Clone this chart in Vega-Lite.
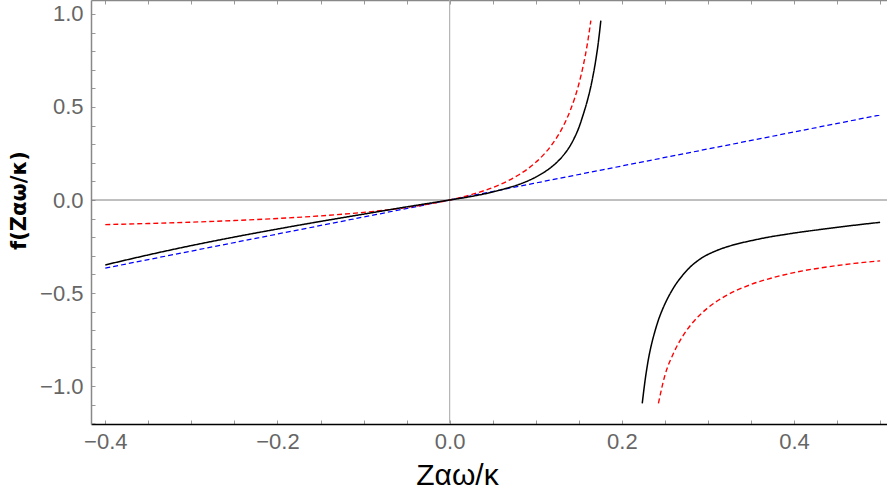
{
  "$schema": "https://vega.github.io/schema/vega-lite/v6.json",
  "width": 796,
  "height": 424,
  "autosize": {"type": "none"},
  "padding": {"left": 91, "top": 0, "right": 0, "bottom": 68},
  "config": {"view": {"stroke": null}},
  "datasets": {
    "curves": [
      {"series": "zeroH", "branch": "h", "x": -0.4166, "y": 0},
      {"series": "zeroH", "branch": "h", "x": 0.508, "y": 0},
      {"series": "zeroV", "branch": "v", "x": 0, "y": -1.204},
      {"series": "zeroV", "branch": "v", "x": 0, "y": 1.075},
      {"series": "blue", "branch": "b1", "x": -0.4, "y": -0.366},
      {"series": "blue", "branch": "b1", "x": 0, "y": 0},
      {"series": "blue", "branch": "b1", "x": 0.5, "y": 0.457},
      {"series": "red", "branch": "r1", "x": -0.4, "y": -0.1323},
      {"series": "red", "branch": "r1", "x": -0.35, "y": -0.1263},
      {"series": "red", "branch": "r1", "x": -0.3, "y": -0.1191},
      {"series": "red", "branch": "r1", "x": -0.25, "y": -0.1104},
      {"series": "red", "branch": "r1", "x": -0.2, "y": -0.0994},
      {"series": "red", "branch": "r1", "x": -0.15, "y": -0.0853},
      {"series": "red", "branch": "r1", "x": -0.1, "y": -0.0664},
      {"series": "red", "branch": "r1", "x": -0.05, "y": -0.0399},
      {"series": "red", "branch": "r1", "x": 0, "y": 0},
      {"series": "red", "branch": "r1", "x": 0.03, "y": 0.0354},
      {"series": "red", "branch": "r1", "x": 0.06, "y": 0.0862},
      {"series": "red", "branch": "r1", "x": 0.08, "y": 0.1344},
      {"series": "red", "branch": "r1", "x": 0.1, "y": 0.2024},
      {"series": "red", "branch": "r1", "x": 0.11, "y": 0.2481},
      {"series": "red", "branch": "r1", "x": 0.12, "y": 0.3055},
      {"series": "red", "branch": "r1", "x": 0.13, "y": 0.3799},
      {"series": "red", "branch": "r1", "x": 0.14, "y": 0.4801},
      {"series": "red", "branch": "r1", "x": 0.145, "y": 0.5445},
      {"series": "red", "branch": "r1", "x": 0.15, "y": 0.6224},
      {"series": "red", "branch": "r1", "x": 0.155, "y": 0.7186},
      {"series": "red", "branch": "r1", "x": 0.16, "y": 0.8403},
      {"series": "red", "branch": "r1", "x": 0.164, "y": 0.964},
      {"series": "red", "branch": "r2", "x": 0.2425, "y": -1.093},
      {"series": "red", "branch": "r2", "x": 0.25, "y": -0.943},
      {"series": "red", "branch": "r2", "x": 0.26, "y": -0.824},
      {"series": "red", "branch": "r2", "x": 0.27, "y": -0.737},
      {"series": "red", "branch": "r2", "x": 0.28, "y": -0.672},
      {"series": "red", "branch": "r2", "x": 0.3, "y": -0.579},
      {"series": "red", "branch": "r2", "x": 0.32, "y": -0.517},
      {"series": "red", "branch": "r2", "x": 0.35, "y": -0.454},
      {"series": "red", "branch": "r2", "x": 0.38, "y": -0.412},
      {"series": "red", "branch": "r2", "x": 0.41, "y": -0.381},
      {"series": "red", "branch": "r2", "x": 0.44, "y": -0.359},
      {"series": "red", "branch": "r2", "x": 0.47, "y": -0.341},
      {"series": "red", "branch": "r2", "x": 0.5, "y": -0.327},
      {"series": "black", "branch": "k1", "x": -0.4, "y": -0.349},
      {"series": "black", "branch": "k1", "x": -0.35, "y": -0.295},
      {"series": "black", "branch": "k1", "x": -0.3, "y": -0.245},
      {"series": "black", "branch": "k1", "x": -0.25, "y": -0.199},
      {"series": "black", "branch": "k1", "x": -0.2, "y": -0.156},
      {"series": "black", "branch": "k1", "x": -0.15, "y": -0.115},
      {"series": "black", "branch": "k1", "x": -0.1, "y": -0.076},
      {"series": "black", "branch": "k1", "x": -0.05, "y": -0.037},
      {"series": "black", "branch": "k1", "x": 0, "y": 0},
      {"series": "black", "branch": "k1", "x": 0.025, "y": 0.019},
      {"series": "black", "branch": "k1", "x": 0.05, "y": 0.043},
      {"series": "black", "branch": "k1", "x": 0.066, "y": 0.063},
      {"series": "black", "branch": "k1", "x": 0.08, "y": 0.083},
      {"series": "black", "branch": "k1", "x": 0.09, "y": 0.101},
      {"series": "black", "branch": "k1", "x": 0.1, "y": 0.123},
      {"series": "black", "branch": "k1", "x": 0.11, "y": 0.15},
      {"series": "black", "branch": "k1", "x": 0.12, "y": 0.184},
      {"series": "black", "branch": "k1", "x": 0.13, "y": 0.229},
      {"series": "black", "branch": "k1", "x": 0.14, "y": 0.292},
      {"series": "black", "branch": "k1", "x": 0.145, "y": 0.335},
      {"series": "black", "branch": "k1", "x": 0.15, "y": 0.388},
      {"series": "black", "branch": "k1", "x": 0.155, "y": 0.457},
      {"series": "black", "branch": "k1", "x": 0.16, "y": 0.535},
      {"series": "black", "branch": "k1", "x": 0.165, "y": 0.632},
      {"series": "black", "branch": "k1", "x": 0.17, "y": 0.76},
      {"series": "black", "branch": "k1", "x": 0.1725, "y": 0.84},
      {"series": "black", "branch": "k1", "x": 0.1756, "y": 0.964},
      {"series": "black", "branch": "k2", "x": 0.2237, "y": -1.093},
      {"series": "black", "branch": "k2", "x": 0.227, "y": -0.97},
      {"series": "black", "branch": "k2", "x": 0.2305, "y": -0.865},
      {"series": "black", "branch": "k2", "x": 0.2345, "y": -0.775},
      {"series": "black", "branch": "k2", "x": 0.2385, "y": -0.705},
      {"series": "black", "branch": "k2", "x": 0.2425, "y": -0.645},
      {"series": "black", "branch": "k2", "x": 0.2475, "y": -0.585},
      {"series": "black", "branch": "k2", "x": 0.2525, "y": -0.535},
      {"series": "black", "branch": "k2", "x": 0.258, "y": -0.488},
      {"series": "black", "branch": "k2", "x": 0.2636, "y": -0.447},
      {"series": "black", "branch": "k2", "x": 0.27, "y": -0.408},
      {"series": "black", "branch": "k2", "x": 0.279, "y": -0.362},
      {"series": "black", "branch": "k2", "x": 0.2907, "y": -0.318},
      {"series": "black", "branch": "k2", "x": 0.31, "y": -0.272},
      {"series": "black", "branch": "k2", "x": 0.33, "y": -0.241},
      {"series": "black", "branch": "k2", "x": 0.35, "y": -0.219},
      {"series": "black", "branch": "k2", "x": 0.37, "y": -0.2},
      {"series": "black", "branch": "k2", "x": 0.39, "y": -0.185},
      {"series": "black", "branch": "k2", "x": 0.41, "y": -0.171},
      {"series": "black", "branch": "k2", "x": 0.43, "y": -0.159},
      {"series": "black", "branch": "k2", "x": 0.45, "y": -0.147},
      {"series": "black", "branch": "k2", "x": 0.475, "y": -0.133},
      {"series": "black", "branch": "k2", "x": 0.5, "y": -0.12}
    ]
  },
  "data": {"name": "curves"},
  "resolve": {"axis": {"x": "independent"}},
  "layer": [
    {
      "mark": {"type": "line", "clip": true, "interpolate": "monotone"},
      "encoding": {
        "x": {
          "field": "x", "type": "quantitative",
          "scale": {"domain": [-0.4166, 0.508], "nice": false, "zero": false},
          "axis": {
            "orient": "bottom", "grid": false,
            "values": [-0.4, -0.35, -0.3, -0.25, -0.2, -0.15, -0.1, -0.05, 0, 0.05, 0.1, 0.15, 0.2, 0.25, 0.3, 0.35, 0.4, 0.45, 0.5],
            "labelExpr": "abs(datum.value*5 - round(datum.value*5)) < 0.001 ? format(datum.value, '.1f') : ''",
            "tickSize": -4, "tickColor": "#999", "tickWidth": 1,
            "domainColor": "#000", "domainWidth": 1.5,
            "labelColor": "#666", "labelFont": "Liberation Sans Narrow, Liberation Sans", "labelFontSize": 22,
            "labelPadding": 11, "labelOverlap": false, "labelFlush": false,
            "title": "Zαω/κ", "titleFont": "Liberation Sans Narrow, Liberation Sans", "titleFontSize": 30,
            "titleFontWeight": "normal", "titleColor": "#000",
            "titleX": 366, "titleY": 60, "titleBaseline": "alphabetic", "titleAnchor": null, "titleAlign": "center"
          }
        },
        "y": {
          "field": "y", "type": "quantitative",
          "scale": {"domain": [-1.204, 1.075], "nice": false, "zero": false},
          "axis": {
            "orient": "left", "grid": false,
            "values": [-1.2, -1.1, -1.0, -0.9, -0.8, -0.7, -0.6, -0.5, -0.4, -0.3, -0.2, -0.1, 0, 0.1, 0.2, 0.3, 0.4, 0.5, 0.6, 0.7, 0.8, 0.9, 1.0],
            "labelExpr": "abs(datum.value*2 - round(datum.value*2)) < 0.001 ? format(datum.value, '.1f') : ''",
            "tickSize": -4, "tickColor": "#999", "tickWidth": 1,
            "domainColor": "#888", "domainWidth": 1.5,
            "labelColor": "#666", "labelFont": "Liberation Sans Narrow, Liberation Sans", "labelFontSize": 22,
            "labelPadding": 12, "labelOverlap": false, "labelFlush": false,
            "title": "f(Zαω/κ)", "titleFont": "DejaVu Sans", "titleFontSize": 21,
            "titleFontWeight": "bold", "titleColor": "#000",
            "titleX": -72, "titleY": 200, "titleAngle": -90, "titleAlign": "center", "titleBaseline": "middle", "titleAnchor": null
          }
        },
        "detail": {"field": "branch"},
        "color": {
          "field": "series", "type": "nominal", "legend": null,
          "scale": {"domain": ["zeroH", "zeroV", "blue", "red", "black"], "range": ["#808080", "#b0b0b0", "#0000ff", "#ff0000", "#000000"]}
        },
        "strokeWidth": {
          "field": "series", "type": "nominal", "legend": null,
          "scale": {"domain": ["zeroH", "zeroV", "blue", "red", "black"], "range": [1, 1.5, 1.5, 1.5, 2]}
        },
        "strokeDash": {
          "field": "series", "type": "nominal", "legend": null,
          "scale": {"domain": ["zeroH", "zeroV", "blue", "red", "black"], "range": [[1, 0], [1, 0], [5, 3], [5, 3], [1, 0]]}
        },
        "order": {"field": "x", "type": "quantitative"}
      }
    },
    {
      "mark": {"type": "point", "opacity": 0},
      "encoding": {
        "x": {
          "field": "x", "type": "quantitative",
          "axis": {
            "orient": "top", "grid": false,
            "values": [-0.4, -0.35, -0.3, -0.25, -0.2, -0.15, -0.1, -0.05, 0, 0.05, 0.1, 0.15, 0.2, 0.25, 0.3, 0.35, 0.4, 0.45, 0.5],
            "labels": false, "title": null,
            "tickSize": -4, "tickColor": "#999", "tickWidth": 1,
            "domainColor": "#888", "domainWidth": 1.5
          }
        }
      }
    }
  ]
}
